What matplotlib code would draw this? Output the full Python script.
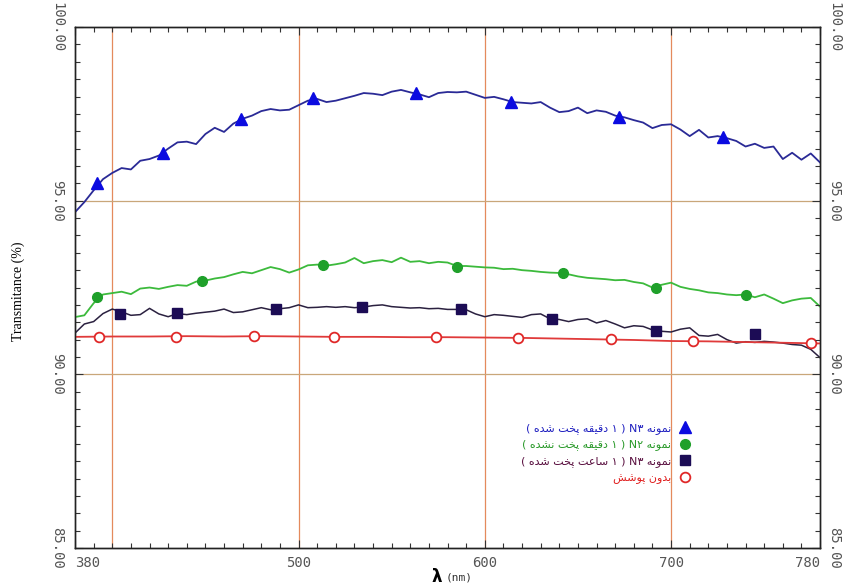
import re
import numpy as np
import matplotlib
matplotlib.use("Agg")
import matplotlib.pyplot as plt
from matplotlib.lines import Line2D
from matplotlib.ticker import MultipleLocator

# wavelengths (nm), 5 nm step for the three noisy spectra
wl = np.arange(380, 781, 5)

# N3 - 1 min (blue)
t_blue = [94.67, 94.96, 95.30, 95.62, 95.80, 95.94, 95.90, 96.15, 96.20, 96.30,
          96.50, 96.68, 96.70, 96.63, 96.92, 97.10, 96.98, 97.22, 97.36, 97.45,
          97.58, 97.64, 97.60, 97.62, 97.75, 97.88, 97.93, 97.84, 97.88, 97.95,
          98.02, 98.10, 98.08, 98.04, 98.14, 98.19, 98.12, 98.06, 97.98, 98.10,
          98.13, 98.12, 98.14, 98.05, 97.96, 97.99, 97.92, 97.84, 97.82, 97.80,
          97.84, 97.68, 97.55, 97.58, 97.68, 97.52, 97.60, 97.56, 97.45, 97.40,
          97.32, 97.25, 97.09, 97.18, 97.20, 97.05, 96.86, 97.04, 96.82, 96.86,
          96.80, 96.72, 96.56, 96.64, 96.52, 96.56, 96.20, 96.38, 96.18, 96.36,
          96.10]

# N2 - 1 min, not baked (green)
t_green = [91.65, 91.70, 92.05, 92.30, 92.34, 92.38, 92.31, 92.47, 92.50, 92.46,
           92.52, 92.57, 92.55, 92.67, 92.70, 92.76, 92.80, 92.88, 92.95, 92.91,
           93.00, 93.09, 93.03, 92.93, 93.02, 93.14, 93.16, 93.13, 93.17, 93.22,
           93.35, 93.20, 93.26, 93.29, 93.23, 93.36, 93.24, 93.26, 93.20, 93.24,
           93.22, 93.12, 93.12, 93.10, 93.08, 93.07, 93.03, 93.04, 93.00, 92.98,
           92.95, 92.93, 92.92, 92.88, 92.82, 92.78, 92.76, 92.74, 92.71, 92.72,
           92.66, 92.62, 92.50, 92.58, 92.64, 92.52, 92.46, 92.42, 92.36, 92.34,
           92.30, 92.28, 92.30, 92.22, 92.30, 92.18, 92.05, 92.13, 92.18, 92.20,
           91.95]

# N3 - 1 hour (dark navy)
t_navy = [91.19, 91.45, 91.52, 91.75, 91.88, 91.80, 91.70, 91.72, 91.90, 91.74,
          91.66, 91.75, 91.72, 91.76, 91.79, 91.82, 91.88, 91.78, 91.80, 91.86,
          91.92, 91.86, 91.89, 91.92, 92.00, 91.92, 91.93, 91.95, 91.93, 91.95,
          91.92, 91.94, 91.98, 92.00, 91.95, 91.93, 91.91, 91.92, 91.89, 91.90,
          91.87, 91.87, 91.86, 91.74, 91.66, 91.72, 91.70, 91.67, 91.64, 91.72,
          91.74, 91.60, 91.58, 91.52, 91.58, 91.60, 91.48, 91.55, 91.45, 91.34,
          91.40, 91.38, 91.28, 91.24, 91.22, 91.30, 91.34, 91.12, 91.10, 91.15,
          91.00, 90.90, 90.94, 90.92, 90.95, 90.93, 90.90, 90.86, 90.84, 90.72,
          90.48]

# uncoated substrate (red)
wl_red = np.arange(380, 781, 20)
t_red = [91.08, 91.09, 91.09, 91.10, 91.09, 91.10, 91.09, 91.08, 91.08, 91.07,
         91.07, 91.06, 91.05, 91.03, 91.01, 90.99, 90.96, 90.95, 90.93, 90.91,
         90.89]

# marker positions
mk_blue_x = [392, 427, 469, 508, 563, 614, 672, 728]
mk_blue_y = [95.51, 96.37, 97.35, 97.96, 98.10, 97.84, 97.41, 96.83]
mk_green_x = [392, 448, 513, 585, 642, 692, 740]
mk_green_y = [92.22, 92.69, 93.15, 93.09, 92.91, 92.48, 92.28]
mk_navy_x = [404, 435, 488, 534, 587, 636, 692, 745]
mk_navy_y = [91.73, 91.76, 91.88, 91.93, 91.88, 91.59, 91.25, 91.17]
mk_red_x = [393, 434, 476, 519, 574, 618, 668, 712, 775]
mk_red_y = [91.08, 91.09, 91.10, 91.09, 91.07, 91.06, 91.03, 90.96, 90.90]

labels = ["نمونه N۳ ( ۱ دقیقه پخت شده )",
          "نمونه N۲ ( ۱ دقیقه پخت نشده )",
          "نمونه N۳ ( ۱ ساعت پخت شده )",
          "بدون پوشش"]

xticks = [380, 500, 600, 700, 780]
yticks = [85, 90, 95, 100]

# --- minimal Persian shaping (matplotlib has no text shaping / bidi) ---
FORMS = {
    'ا': ('\uFE8D', '\uFE8E', None, None),
    'ب': ('\uFE8F', '\uFE90', '\uFE91', '\uFE92'),
    'پ': ('\uFB56', '\uFB57', '\uFB58', '\uFB59'),
    'ت': ('\uFE95', '\uFE96', '\uFE97', '\uFE98'),
    'خ': ('\uFEA5', '\uFEA6', '\uFEA7', '\uFEA8'),
    'د': ('\uFEA9', '\uFEAA', None, None),
    'س': ('\uFEB1', '\uFEB2', '\uFEB3', '\uFEB4'),
    'ش': ('\uFEB5', '\uFEB6', '\uFEB7', '\uFEB8'),
    'ع': ('\uFEC9', '\uFECA', '\uFECB', '\uFECC'),
    'ق': ('\uFED5', '\uFED6', '\uFED7', '\uFED8'),
    'م': ('\uFEE1', '\uFEE2', '\uFEE3', '\uFEE4'),
    'ن': ('\uFEE5', '\uFEE6', '\uFEE7', '\uFEE8'),
    'ه': ('\uFEE9', '\uFEEA', '\uFEEB', '\uFEEC'),
    'و': ('\uFEED', '\uFEEE', None, None),
    'ی': ('\uFBFC', '\uFBFD', '\uFEF3', '\uFEF4'),
}


def farsi(s):
    out = []
    for i, ch in enumerate(s):
        if ch not in FORMS:
            out.append(ch)
            continue
        prev = s[i - 1] if i > 0 else ''
        nxt = s[i + 1] if i + 1 < len(s) else ''
        jp = prev in FORMS and FORMS[prev][2] is not None
        jn = nxt in FORMS and FORMS[ch][2] is not None
        iso, fin, ini, med = FORMS[ch]
        out.append(med if (jp and jn) else fin if jp else ini if jn else iso)
    parts = re.findall(r'[A-Za-z0-9\u06F0-\u06F9]+|.', ''.join(out))
    mirror = {'(': ')', ')': '('}
    return ''.join(mirror.get(p, p) for p in reversed(parts))


fig = plt.figure(figsize=(8.45, 5.88), dpi=100)
ax = fig.add_axes([0.0888, 0.068, 0.8817, 0.886])

# grid lines
for x in [400, 500, 600, 700]:
    ax.axvline(x, color='#e48a5c', lw=0.9, zorder=1)
for y in [90, 95]:
    ax.axhline(y, color='#c9a77a', lw=0.9, zorder=1)

ax.plot(wl, t_blue, color='#2a2a96', lw=1.3, zorder=3)
ax.plot(wl, t_green, color='#3cba3c', lw=1.3, zorder=3)
ax.plot(wl, t_navy, color='#2b2140', lw=1.1, zorder=3)
ax.plot(wl_red, t_red, color='#e03a3a', lw=1.3, zorder=3)

ax.plot(mk_blue_x, mk_blue_y, ls='none', marker='^', ms=9, color='#0b0be0', zorder=4)
ax.plot(mk_green_x, mk_green_y, ls='none', marker='o', ms=7, color='#1fa02a', zorder=4)
ax.plot(mk_navy_x, mk_navy_y, ls='none', marker='s', ms=7, color='#1c0c55', zorder=4)
ax.plot(mk_red_x, mk_red_y, ls='none', marker='o', ms=7, mfc='white',
        mec='#e02828', mew=1.3, zorder=4)

ax.set_xlim(380, 780)
ax.set_ylim(85, 100)

ax.set_xticks(xticks)
ax.set_xticklabels([str(v) for v in xticks], family='DejaVu Sans Mono',
                   fontsize=10, color='#555555')
ax.get_xticklabels()[0].set_ha('left')
ax.get_xticklabels()[-1].set_ha('right')
ax.xaxis.set_minor_locator(MultipleLocator(10))

# right-hand axis as twin so its labels can sit closer to the frame
ax2 = ax.twinx()
ax2.set_ylim(85, 100)
for a, pad in [(ax, 8), (ax2, 5)]:
    a.set_yticks(yticks)
    a.set_yticklabels(['%.2f' % v for v in yticks], rotation=270, va='center',
                      family='DejaVu Sans Mono', fontsize=10, color='#555555')
    a.yaxis.set_minor_locator(MultipleLocator(0.5))
    a.tick_params(axis='y', pad=pad)

ax.tick_params(which='both', direction='in', top=True, right=False, color='#333333')
ax2.tick_params(which='both', direction='in', color='#333333')
for a in (ax, ax2):
    a.tick_params(which='major', length=6, width=0.8)
    a.tick_params(which='minor', length=3.5, width=0.8)
ax.tick_params(axis='x', pad=6)

for a in (ax, ax2):
    for s in a.spines.values():
        s.set_color('#222222')
        s.set_linewidth(1.0)

fig.text(0.022, 0.505, 'Transmitance (%)', rotation=90, ha='center', va='center',
         family='Liberation Serif', fontsize=10)
fig.text(0.523, 0.018, 'λ', ha='right', va='center', fontsize=12, fontweight='bold',
         family='DejaVu Sans')
fig.text(0.527, 0.018, '(nm)', ha='left', va='center', fontsize=8,
         family='DejaVu Sans Mono', color='#333333')

handles = [
    Line2D([], [], ls='none', marker='^', ms=9, color='#0b0be0'),
    Line2D([], [], ls='none', marker='o', ms=7, color='#1fa02a'),
    Line2D([], [], ls='none', marker='s', ms=7, color='#1c0c55'),
    Line2D([], [], ls='none', marker='o', ms=7, mfc='white', mec='#e02828', mew=1.3),
]
leg = ax2.legend(handles, [farsi(l) for l in labels], markerfirst=False,
                 frameon=False, loc='center right', bbox_to_anchor=(0.84, 0.182),
                 prop={'family': 'DejaVu Sans', 'size': 8}, labelspacing=0.5,
                 handletextpad=0.8, handlelength=1.0)
for txt, c in zip(leg.get_texts(), ['#2020c0', '#2a9a2a', '#5a1040', '#e02020']):
    txt.set_color(c)

fig.savefig('out.png', dpi=100)
